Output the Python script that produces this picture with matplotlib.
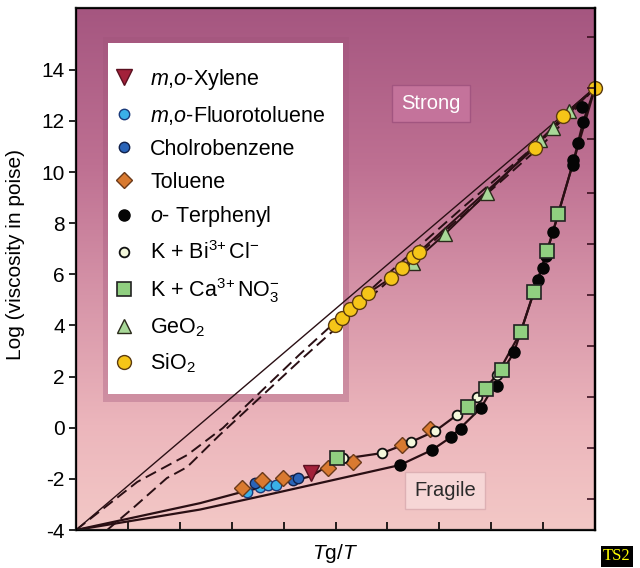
import numpy as np
import matplotlib
matplotlib.use("Agg")
import matplotlib.pyplot as plt
from matplotlib.colors import LinearSegmentedColormap
from matplotlib.patches import Rectangle

plt.rcParams["font.family"] = ["Liberation Sans", "DejaVu Sans"]
plt.rcParams["mathtext.fontset"] = "custom"
plt.rcParams["mathtext.rm"] = "Liberation Sans"
plt.rcParams["mathtext.it"] = "Liberation Sans:italic"
plt.rcParams["mathtext.bf"] = "Liberation Sans:bold"
plt.rcParams["axes.unicode_minus"] = False

# Tg/T and log10(viscosity / poise) for each liquid
xylene_x = [0.453]
xylene_y = [-1.77]
fluoro_x = [0.329, 0.355, 0.370, 0.385]
fluoro_y = [-2.51, -2.32, -2.24, -2.24]
chloro_x = [0.345, 0.418, 0.428]
chloro_y = [-2.16, -2.04, -1.97]
toluene_x = [0.320, 0.358, 0.399, 0.486, 0.534, 0.628, 0.682]
toluene_y = [-2.36, -2.04, -1.97, -1.57, -1.34, -0.67, -0.05]
terphenyl_x = [0.624, 0.686, 0.723, 0.742, 0.780, 0.811, 0.844, 0.890, 0.900,
               0.906, 0.919, 0.958, 0.958, 0.967, 0.977, 0.975]
terphenyl_y = [-1.46, -0.87, -0.36, -0.05, 0.77, 1.63, 2.96, 5.78, 6.25,
               6.72, 7.66, 10.28, 10.48, 11.14, 11.96, 12.55]
kbicl_x = [0.514, 0.590, 0.645, 0.692, 0.734, 0.773, 0.811]
kbicl_y = [-1.18, -0.99, -0.56, -0.13, 0.50, 1.20, 2.06]
kcano3_x = [0.503, 0.755, 0.790, 0.821, 0.857, 0.882, 0.908, 0.929]
kcano3_y = [-1.18, 0.81, 1.52, 2.26, 3.75, 5.31, 6.92, 8.36]
geo2_x = [0.649, 0.711, 0.792, 0.894, 0.919, 0.950]
geo2_y = [6.45, 7.58, 9.18, 11.26, 11.73, 12.39]
sio2_x = [0.499, 0.513, 0.528, 0.545, 0.563, 0.607, 0.628, 0.649, 0.661,
          0.884, 0.938, 1.0]
sio2_y = [4.02, 4.29, 4.65, 4.92, 5.27, 5.86, 6.25, 6.68, 6.88,
          10.95, 12.2, 13.3]

# guide curves
arrhenius_x = [0.0, 1.0]
arrhenius_y = [-4.0, 13.3]
ext1_x = [0.0, 0.118, 0.214, 0.283, 0.43, 0.6, 0.75, 0.9, 1.0]
ext1_y = [-4.0, -2.12, -1.07, -0.01, 2.85, 6.0, 8.7, 11.3, 13.3]
ext2_x = [0.06, 0.110, 0.175, 0.214, 0.277, 0.43, 0.6, 0.75, 0.9, 1.0]
ext2_y = [-4.0, -3.14, -1.97, -1.54, -0.28, 2.6, 5.7, 8.4, 11.1, 13.3]
frag_up_x = [0.0, 0.239, 0.322, 0.453, 0.503, 0.590, 0.645, 0.692, 0.734,
             0.773, 0.811, 0.857, 0.882, 0.908, 0.929, 1.0]
frag_up_y = [-4.0, -2.95, -2.50, -1.90, -1.25, -0.99, -0.56, -0.13, 0.50,
             1.20, 2.06, 3.75, 5.31, 6.92, 8.36, 13.3]
frag_lo_x = [0.0, 0.239, 0.374, 0.624, 0.686, 0.723, 0.780, 0.844, 0.890,
             0.919, 0.958, 0.977, 1.0]
frag_lo_y = [-4.0, -3.2, -2.6, -1.46, -0.87, -0.36, 0.77, 2.96, 5.78,
             7.66, 10.38, 11.96, 13.3]

right_ticks = [-2.8, -0.8, 1.2, 3.2, 5.2, 7.2, 9.2, 11.3, 13.3, 15.3]

fig = plt.figure(figsize=(6.4, 5.68), dpi=100)
ax = fig.add_axes([76 / 640, 38 / 568, 519 / 640, 522 / 568])
ax.set_xlim(0, 1)
ax.set_ylim(-4, 16.42)

# pink-to-mauve background
bg = LinearSegmentedColormap.from_list("bg", [
    (0.0, (243/255, 200/255, 198/255)),
    (0.2, (236/255, 182/255, 188/255)),
    (0.45, (214/255, 148/255, 168/255)),
    (0.7, (190/255, 112/255, 146/255)),
    (1.0, (165/255, 86/255, 128/255)),
])
grad = np.linspace(0, 1, 256).reshape(-1, 1)
ax.imshow(grad, extent=[0, 1, -4, 16.42], origin="lower", aspect="auto",
          cmap=bg, zorder=0)

# legend panel with a soft shadow, under the data
ax.add_patch(Rectangle((0.052, 0.245), 0.474, 0.700, transform=ax.transAxes,
                       fc="#a0547a", ec="none", alpha=0.35, zorder=1))
ax.add_patch(Rectangle((0.0617, 0.2605), 0.452, 0.6725, transform=ax.transAxes,
                       fc="white", ec="none", zorder=1.1))

lc = "#2a0f14"
ax.plot(arrhenius_x, arrhenius_y, color=lc, lw=1.0, zorder=2)
ax.plot(ext1_x, ext1_y, color=lc, lw=1.4, ls=(0, (6, 3)), zorder=2)
ax.plot(ext2_x, ext2_y, color=lc, lw=1.4, ls=(0, (6, 3)), zorder=2)
ax.plot(sio2_x, sio2_y, color=lc, lw=1.4, zorder=2)
ax.plot(geo2_x + [1.0], geo2_y + [13.3], color=lc, lw=1.4, zorder=2)
ax.plot(frag_up_x, frag_up_y, color=lc, lw=1.6, zorder=2)
ax.plot(frag_lo_x, frag_lo_y, color=lc, lw=1.6, zorder=2)

mk = dict(ls="none", zorder=3, clip_on=False)
h_xyl, = ax.plot(xylene_x, xylene_y, marker="v", ms=11, mfc="#a3213a",
                 mec="#5a1020", mew=1.0, label="$m$,$o$-Xylene", **mk)
h_flu, = ax.plot(fluoro_x, fluoro_y, marker="o", ms=7.5, mfc="#3ab0e8",
                 mec="#1a3a7a", mew=1.0, label="$m$,$o$-Fluorotoluene", **mk)
h_chl, = ax.plot(chloro_x, chloro_y, marker="o", ms=7.5, mfc="#2a64b8",
                 mec="#10204a", mew=1.0, label="Cholrobenzene", **mk)
h_tol, = ax.plot(toluene_x, toluene_y, marker="D", ms=8.5, mfc="#d97a30",
                 mec="#6b3a1a", mew=1.0, label="Toluene", **mk)
h_ter, = ax.plot(terphenyl_x, terphenyl_y, marker="o", ms=8, mfc="#050505",
                 mec="#050505", label="$o$- Terphenyl", **mk)
h_bi, = ax.plot(kbicl_x, kbicl_y, marker="o", ms=7, mfc="#f4f8dc",
                mec="#111111", mew=1.3,
                label=r"K + Bi$^{3\!+}$Cl$^{-}$", **mk)
h_ca, = ax.plot(kcano3_x, kcano3_y, marker="s", ms=10, mfc="#90cf80",
                mec="#222222", mew=1.2,
                label=r"K + Ca$^{3\!+}$NO$_3^{-}$", **mk)
h_ge, = ax.plot(geo2_x, geo2_y, marker="^", ms=10, mfc="#a8d898",
                mec="#2b2b1b", mew=1.0, label="GeO$_2$", **mk)
h_si, = ax.plot(sio2_x, sio2_y, marker="o", ms=10, mfc="#f5c518",
                mec="#5a3a10", mew=1.0, label="SiO$_2$", **mk)

leg = ax.legend(handles=[h_xyl, h_flu, h_chl, h_tol, h_ter, h_bi, h_ca, h_ge, h_si],
                loc="upper left", bbox_to_anchor=(0.0718, 0.887),
                frameon=False, fontsize=15.5, borderpad=0, borderaxespad=0,
                handlelength=1.0, handletextpad=0.71, labelspacing=0.55)
leg.set_zorder(6)

ax.text(0.684, 12.7, "Strong", color="white", fontsize=14.5, ha="center",
        va="center", zorder=4,
        bbox=dict(boxstyle="square,pad=0.45", fc="#c4739b", ec="#a25580", lw=1))
ax.text(0.711, -2.47, "Fragile", color="#2b2b2b", fontsize=14.5, ha="center",
        va="center", zorder=4,
        bbox=dict(boxstyle="square,pad=0.45", fc="#f6d6d6", ec="#ddb0b4", lw=1))

ax.set_xticks(np.arange(0, 1.01, 0.1))
ax.set_xticklabels([])
ax.set_yticks(range(-4, 15, 2))
ax.tick_params(axis="x", direction="in", length=6, width=1.2, top=False)
ax.tick_params(axis="y", direction="out", length=5, width=1.2,
               labelsize=15, pad=3)
for s in ax.spines.values():
    s.set_linewidth(1.6)
    s.set_color("#1a1a1a")

ax2 = ax.twinx()
ax2.set_ylim(ax.get_ylim())
ax2.set_yticks(right_ticks)
ax2.set_yticklabels([])
ax2.tick_params(axis="y", direction="in", length=6, width=1.2, colors="#3a1020")
ax2.spines["right"].set_linewidth(1.6)

ax.set_xlabel("$T$g/$T$", fontsize=15, labelpad=5)
ax.set_ylabel("Log (viscosity in poise)", fontsize=15)
ax.yaxis.set_label_coords(-0.098, 0.527)

fig.text(0.964, 0.021, "TS2", family="Liberation Serif", color="#ffff00",
         fontsize=12, ha="center", va="center",
         bbox=dict(boxstyle="square,pad=0.15", fc="black", ec="none"))

fig.savefig("out.png", dpi=100)
